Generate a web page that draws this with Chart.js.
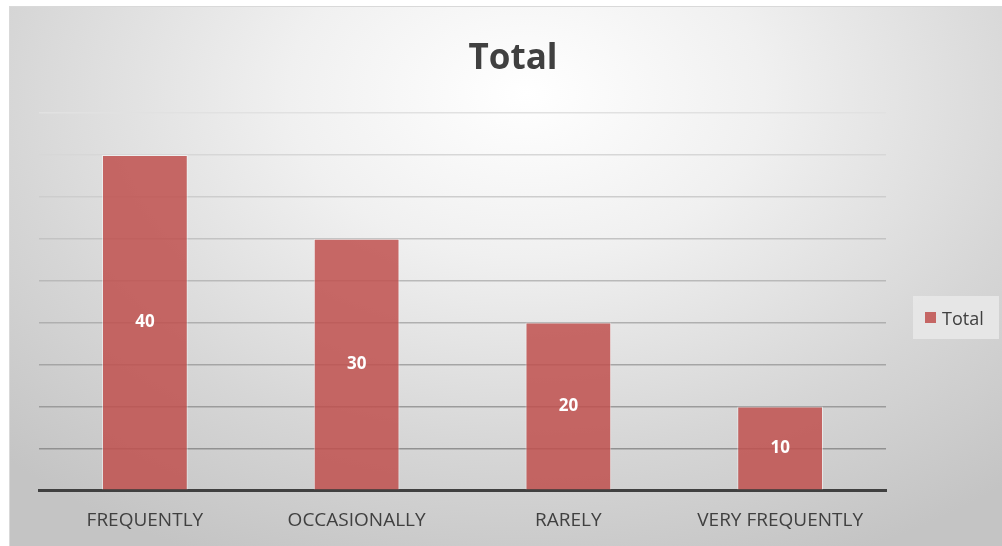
<!DOCTYPE html>
<html>
<head>
    <script src="https://cdn.jsdelivr.net/npm/chart.js"></script>
    <style>
        body { margin: 0; background: #fff; width: 1002px; height: 546px; overflow: hidden; }
        #wrap {
            position: absolute; left: 9px; top: 6px; width: 993px; height: 540px; overflow: hidden;
            border-top: 1px solid #d9d9d9; border-left: 1px solid #d9d9d9; box-sizing: border-box;
            background: radial-gradient(ellipse 75% 95% at 52% 16%, #ffffff 0%, #f0f0f0 32%, #d6d6d6 70%, #c4c4c4 100%);
        }
        #bar-chart { position: absolute; left: 0; top: 0; }
        #legend {
            position: absolute; left: 903px; top: 289px; width: 86px; height: 43px;
            background: rgba(232,232,232,0.9);
            font-family: "Open Sans", "Liberation Sans", sans-serif; font-size: 18px; color: #404040;
            display: flex; align-items: center;
        }
        #legend span.box { display: inline-block; width: 11px; height: 11px; background: rgba(192,80,77,0.85); margin: 0 6px 0 12px; }
    </style>
</head>
<body>
<div id="wrap">
    <canvas id="bar-chart" width="993" height="540"></canvas>
    <div id="legend"></div>
</div>

<script>
    // 데이터
    var categories = ['FREQUENTLY', 'OCCASIONALLY', 'RARELY', 'VERY FREQUENTLY'];
    var totals = [40, 30, 20, 10];
    var seriesName = 'Total';

    var fontFamily = '"Open Sans", "Liberation Sans", sans-serif';

    // 제목 + 막대 가운데 값 표시
    var barLabels = {
        id: 'barLabels',
        afterDatasetsDraw: function(chart) {
            var ctx = chart.ctx;
            var meta = chart.getDatasetMeta(0);
            ctx.save();
            ctx.textAlign = 'center';
            ctx.textBaseline = 'middle';
            // 제목 (차트 전체 가운데)
            ctx.fillStyle = '#404040';
            ctx.font = 'bold 35px ' + fontFamily;
            ctx.fillText(seriesName, 503, 52);
            // 값
            ctx.fillStyle = '#ffffff';
            ctx.font = 'bold 17px ' + fontFamily;
            meta.data.forEach(function(bar, i) {
                ctx.fillText(chart.data.datasets[0].data[i], bar.x, (bar.y + bar.base) / 2);
            });
            ctx.restore();
        }
    };

    var ctx = document.getElementById('bar-chart').getContext('2d');
    var myChart = new Chart(ctx, {
        type: 'bar',
        data: {
            labels: categories,
            datasets: [{
                label: seriesName,
                data: totals,
                backgroundColor: 'rgba(192,80,77,0.85)',
                borderColor: 'rgba(255,255,255,0.5)',
                borderWidth: 1,
                categoryPercentage: 1,
                barPercentage: 0.405
            }]
        },
        options: {
            responsive: false,
            animation: false,
            layout: { padding: { left: 29, right: 117, top: 106, bottom: -4 } },
            plugins: {
                legend: { display: false },
                tooltip: { enabled: false },
                title: { display: false }
            },
            scales: {
                x: {
                    grid: { display: false, drawTicks: false },
                    border: { color: '#404040', width: 3 },
                    ticks: {
                        color: '#404040', padding: 19, maxRotation: 0,
                        font: { family: fontFamily, size: 19 }
                    }
                },
                y: {
                    min: 0, max: 45,
                    ticks: { display: false, stepSize: 5 },
                    border: { display: false },
                    grid: {
                        drawTicks: false,
                        lineWidth: 1.5,
                        color: function(c) {
                            var v = c.tick ? c.tick.value : 0;
                            var g = Math.round(135 + (v / 45) * 90);
                            return 'rgb(' + g + ',' + g + ',' + g + ')';
                        }
                    }
                }
            }
        },
        plugins: [barLabels]
    });

    document.getElementById('legend').innerHTML = '<span class="box"></span>' + seriesName;
</script>
</body>
</html>
